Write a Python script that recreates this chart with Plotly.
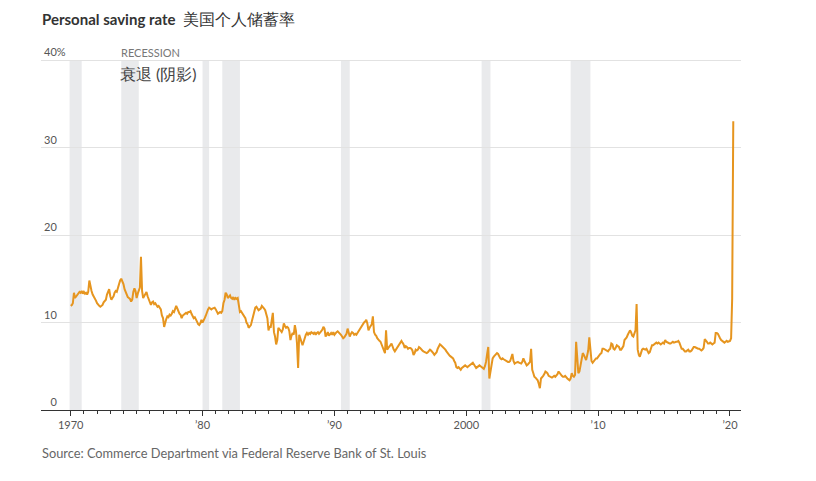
import pandas as pd
import plotly.graph_objects as go

# Monthly personal saving rate (%), Jan 1970 - Apr 2020
rate_by_year = {
    1970: [11.9, 12.0, 12.2, 13.4, 12.8, 13.0, 13.1, 13.3, 13.5, 13.4, 13.6, 13.3],
    1971: [13.5, 13.3, 13.4, 13.2, 13.5, 14.8, 14.0, 13.6, 13.2, 13.0, 12.8, 12.5],
    1972: [12.2, 12.0, 11.9, 11.8, 11.9, 12.0, 12.3, 12.4, 12.6, 13.2, 13.5, 13.8],
    1973: [13.0, 12.6, 12.8, 13.0, 13.4, 13.6, 13.5, 14.0, 14.3, 14.8, 15.0, 14.7],
    1974: [14.4, 13.8, 13.5, 13.2, 12.9, 12.8, 12.7, 12.4, 12.6, 13.5, 13.9, 13.6],
    1975: [12.8, 13.3, 13.8, 14.0, 17.5, 13.6, 12.8, 13.0, 13.2, 13.5, 13.0, 12.6],
    1976: [12.2, 12.0, 12.3, 12.4, 12.1, 12.2, 12.0, 11.8, 11.9, 11.7, 11.5, 10.8],
    1977: [10.5, 9.5, 10.0, 10.4, 10.7, 10.6, 10.9, 10.8, 11.0, 11.3, 11.2, 11.5],
    1978: [11.9, 11.6, 11.2, 11.0, 10.9, 10.5, 10.8, 10.9, 11.0, 11.1, 11.0, 11.2],
    1979: [11.2, 11.3, 11.0, 10.7, 10.5, 10.6, 10.4, 10.1, 9.8, 9.7, 9.9, 10.3],
    1980: [10.0, 10.2, 10.5, 10.8, 11.3, 11.5, 11.7, 11.6, 11.5, 11.6, 11.7, 11.7],
    1981: [11.5, 11.2, 11.0, 11.1, 11.2, 11.1, 11.3, 12.2, 12.6, 13.4, 13.2, 12.8],
    1982: [12.9, 13.1, 12.8, 12.7, 12.9, 12.6, 12.8, 12.7, 12.8, 12.2, 11.2, 11.3],
    1983: [11.1, 11.0, 10.8, 10.5, 10.0, 9.8, 9.4, 9.5, 9.7, 10.2, 10.8, 11.3],
    1984: [11.7, 11.8, 11.5, 11.4, 11.5, 11.6, 11.9, 11.8, 11.6, 11.4, 11.0, 10.5],
    1985: [9.1, 9.6, 9.4, 10.3, 11.1, 8.9, 8.4, 7.5, 8.0, 9.4, 9.2, 9.0],
    1986: [8.9, 9.2, 9.9, 9.6, 9.4, 9.5, 9.4, 9.0, 8.0, 8.5, 8.8, 8.6],
    1987: [9.7, 9.0, 7.6, 4.8, 8.6, 8.2, 7.8, 7.4, 7.8, 8.4, 8.6, 8.8],
    1988: [8.6, 8.8, 8.7, 8.9, 8.8, 8.7, 8.9, 8.6, 8.8, 8.9, 8.7, 8.8],
    1989: [9.0, 9.2, 9.5, 9.3, 8.4, 8.6, 8.9, 8.5, 8.7, 8.8, 8.6, 8.9],
    1990: [8.6, 8.8, 8.9, 9.0, 8.9, 8.7, 8.6, 8.4, 8.2, 8.3, 8.5, 8.7],
    1991: [9.3, 8.8, 8.4, 8.7, 8.9, 8.8, 8.6, 8.7, 8.6, 8.8, 9.0, 9.3],
    1992: [9.5, 9.7, 9.9, 10.0, 10.1, 10.3, 9.9, 9.1, 9.4, 9.6, 9.8, 10.7],
    1993: [8.9, 8.6, 8.5, 8.2, 8.0, 7.9, 7.8, 7.5, 7.2, 6.9, 6.5, 9.1],
    1994: [6.9, 7.1, 7.2, 7.4, 7.6, 7.1, 6.9, 6.7, 6.9, 7.1, 7.2, 7.4],
    1995: [7.6, 7.9, 7.7, 7.5, 7.1, 7.3, 7.2, 7.0, 7.1, 7.1, 7.0, 6.8],
    1996: [6.3, 6.5, 6.9, 6.8, 6.9, 7.2, 7.1, 6.9, 6.8, 6.7, 6.6, 6.6],
    1997: [6.5, 6.6, 6.8, 6.9, 6.8, 6.7, 6.5, 6.3, 6.4, 6.6, 7.0, 7.3],
    1998: [7.5, 7.4, 7.3, 7.2, 7.0, 6.9, 6.7, 6.5, 6.4, 6.2, 6.1, 6.0],
    1999: [5.9, 5.6, 5.4, 4.9, 4.8, 4.9, 4.7, 4.6, 4.8, 4.9, 5.0, 5.1],
    2000: [5.0, 4.9, 5.0, 5.1, 5.2, 5.3, 5.4, 5.2, 4.9, 4.8, 4.9, 5.0],
    2001: [5.1, 5.0, 4.9, 4.8, 4.7, 5.0, 5.5, 6.4, 7.2, 3.6, 4.6, 5.5],
    2002: [5.9, 6.1, 6.2, 6.3, 6.5, 6.4, 6.1, 5.9, 5.8, 5.9, 5.8, 5.7],
    2003: [5.7, 5.6, 5.5, 5.5, 5.6, 6.0, 6.4, 5.6, 5.3, 5.4, 5.5, 5.5],
    2004: [5.4, 5.3, 5.3, 5.5, 5.9, 5.6, 5.4, 5.1, 5.2, 5.3, 5.5, 7.0],
    2005: [4.6, 4.2, 3.8, 3.7, 3.5, 3.4, 3.0, 2.5, 3.6, 3.7, 3.9, 4.1],
    2006: [4.4, 4.3, 4.2, 3.9, 3.8, 3.8, 3.7, 3.8, 3.9, 3.8, 3.9, 4.1],
    2007: [4.4, 4.2, 4.1, 3.9, 3.8, 3.8, 3.9, 3.7, 3.6, 3.5, 3.4, 3.6],
    2008: [4.2, 3.9, 3.8, 4.0, 7.8, 6.0, 4.2, 4.4, 5.2, 6.0, 6.5, 6.3],
    2009: [5.9, 5.7, 6.2, 6.8, 8.3, 7.0, 5.6, 5.4, 5.6, 5.8, 5.9, 5.9],
    2010: [6.1, 6.2, 6.4, 6.5, 7.0, 7.0, 6.9, 6.9, 6.8, 6.7, 6.9, 7.0],
    2011: [7.6, 7.5, 7.0, 6.9, 7.1, 7.4, 7.3, 7.2, 6.9, 6.9, 7.1, 7.3],
    2012: [8.0, 8.1, 8.3, 8.6, 8.8, 9.1, 8.9, 8.5, 8.4, 8.7, 9.1, 12.1],
    2013: [6.9, 6.3, 6.1, 6.5, 6.9, 7.0, 6.9, 6.9, 7.0, 6.8, 6.5, 6.6],
    2014: [7.2, 7.4, 7.4, 7.5, 7.6, 7.7, 7.6, 7.7, 7.6, 7.5, 7.6, 7.7],
    2015: [7.6, 8.0, 7.8, 7.7, 7.7, 7.6, 7.6, 7.7, 7.8, 7.7, 7.8, 7.8],
    2016: [7.8, 7.9, 7.7, 7.3, 7.0, 7.0, 6.8, 6.7, 6.7, 6.8, 6.9, 6.7],
    2017: [6.7, 6.8, 7.0, 7.2, 7.2, 7.1, 7.0, 7.0, 7.0, 6.9, 6.8, 6.9],
    2018: [7.1, 8.1, 8.0, 7.8, 7.6, 7.6, 7.7, 7.6, 7.5, 7.6, 7.7, 8.8],
    2019: [8.8, 8.7, 8.4, 8.2, 8.0, 7.9, 7.8, 7.7, 7.8, 7.9, 7.8, 7.9],
    2020: [7.9, 8.2, 12.7, 33.0],
}

recession_starts = ["1969-12-01", "1973-11-01", "1980-01-01", "1981-07-01",
                    "1990-07-01", "2001-03-01", "2007-12-01"]
recession_ends = ["1970-11-01", "1975-03-01", "1980-07-01", "1982-11-01",
                  "1991-03-01", "2001-11-01", "2009-06-01"]

x_tick_vals = ["1970-01-01", "1980-01-01", "1990-01-01", "2000-01-01",
               "2010-01-01", "2020-01-01"]
x_tick_text = ["1970", "\u201980", "\u201990", "2000", "\u201910", "\u201920"]
y_tick_vals = [0, 10, 20, 30, 40]
y_tick_text = ["\u20070", "10", "20", "30", "40%"]

dates, values = [], []
for yr, vals in rate_by_year.items():
    for m, v in enumerate(vals):
        dates.append(f"{yr}-{m + 1:02d}-01")
        values.append(v)

FONT = "Lato"
Y_TOP = 40  # top gridline value

fig = go.Figure()

for s, e in zip(recession_starts, recession_ends):
    fig.add_shape(type="rect", xref="x", yref="y", x0=s, x1=e, y0=0, y1=Y_TOP,
                  fillcolor="#e9eaec", line_width=0, layer="below")

fig.add_trace(go.Scatter(x=dates, y=values, mode="lines",
                         line=dict(color="#e6951f", width=2), hoverinfo="skip"))

# plot area top at y=45px, 40% gridline at y=60px, 0 at y=410px
fig.update_layout(
    width=816, height=481,
    margin=dict(l=41, r=75, t=45, b=71),
    paper_bgcolor="white", plot_bgcolor="white",
    showlegend=False,
    font=dict(family=FONT, color="#555"),
    xaxis=dict(
        type="date", range=["1967-10-01", "2020-11-01"],
        tickvals=x_tick_vals, ticktext=x_tick_text,
        ticks="outside", ticklen=5, tickcolor="#333", tickwidth=1,
        minor=dict(ticks="outside", ticklen=3, tickcolor="#333",
                   dtick="M12", tick0="1970-01-01"),
        showline=True, linecolor="#333", linewidth=1,
        showgrid=False, zeroline=False,
        tickfont=dict(size=11, color="#555", family=FONT),
    ),
    yaxis=dict(
        range=[0, 365 / 8.75], tickvals=y_tick_vals, ticktext=y_tick_text,
        ticklabelposition="inside top", ticks="",
        showgrid=True, gridcolor="#e2e2e2", gridwidth=1,
        zeroline=False, showline=False,
        tickfont=dict(size=11, color="#555", family=FONT),
    ),
)

fig.add_annotation(xref="paper", yref="paper", x=-0.001, y=1.0,
                   yshift=27, xanchor="left", yanchor="middle",
                   text="<b>Personal saving rate</b>  "
                        "<span style='font-size:16px'>美国个人储蓄率</span>",
                   showarrow=False, font=dict(size=15, color="#333", family=FONT))
fig.add_annotation(xref="x", yref="y", x=recession_starts[1], y=Y_TOP,
                   yshift=8, xshift=-2, xanchor="left", yanchor="middle",
                   text="RECESSION", showarrow=False,
                   font=dict(size=11, color="#777", family=FONT))
fig.add_annotation(xref="x", yref="y", x=recession_starts[1], y=Y_TOP,
                   yshift=-13, xshift=-3, xanchor="left", yanchor="middle",
                   text="衰退 (阴影)", showarrow=False,
                   font=dict(size=16, color="#444", family=FONT))
fig.add_annotation(xref="paper", yref="paper", x=-0.001, y=0.0,
                   yshift=-43, xanchor="left", yanchor="middle",
                   text="Source: Commerce Department via Federal Reserve Bank of St. Louis",
                   showarrow=False, font=dict(size=12.8, color="#666", family=FONT))

fig.write_html("out.html")
